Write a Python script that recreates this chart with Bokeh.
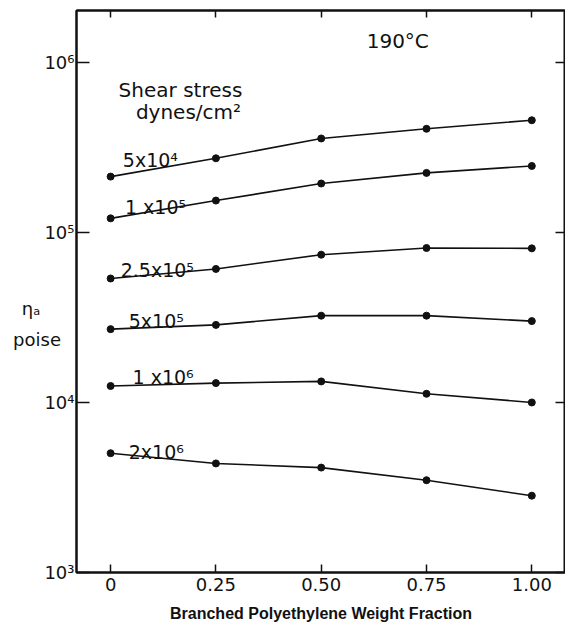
import numpy as np
from bokeh.plotting import figure
from bokeh.models import (FixedTicker, LinearAxis, LogAxis, CustomJSTickFormatter,
                          Label, ColumnDataSource, Range1d)
from bokeh.core.properties import value
from bokeh.embed import file_html
from bokeh.resources import INLINE

# ---------------- data ----------------
fraction = [0.0, 0.25, 0.50, 0.75, 1.00]
stress_labels = ["5x10⁴", "1 x10⁵", "2.5x10⁵", "5x10⁵", "1 x10⁶", "2x10⁶"]
visc_5e4 = [2.13e5, 2.73e5, 3.57e5, 4.07e5, 4.57e5]
visc_1e5 = [1.21e5, 1.54e5, 1.94e5, 2.24e5, 2.46e5]
visc_2_5e5 = [5.36e4, 6.10e4, 7.40e4, 8.10e4, 8.06e4]
visc_5e5 = [2.70e4, 2.86e4, 3.24e4, 3.24e4, 3.01e4]
visc_1e6 = [1.25e4, 1.30e4, 1.33e4, 1.125e4, 1.00e4]
visc_2e6 = [5.03e3, 4.38e3, 4.14e3, 3.49e3, 2.83e3]
series = [visc_5e4, visc_1e5, visc_2_5e5, visc_5e5, visc_1e6, visc_2e6]

x_ticks = [0.0, 0.25, 0.50, 0.75, 1.00]
x_tick_labels = ["0", "0.25", "0.50", "0.75", "1.00"]
y_ticks = [1e3, 1e4, 1e5, 1e6]
y_tick_labels = ["10³", "10⁴", "10⁵", "10⁶"]
y_title_lines = ["ηₐ", "poise"]

# ---------------- layout (anchors) ----------------
label_anchor = [(0.029, 2.66e5), (0.034, 1.41e5), (0.024, 6.04e4),
                (0.043, 3.03e4), (0.052, 1.41e4), (0.043, 5.12e3)]
# y-axis title lines are drawn as tick labels of the left axis at these heights,
# padded on the right with fixed-width unicode spaces
y_title_anchor = [3.56e4, 2.36e4]
y_title_pad = ["\u2003\u2002\u2009\u2009", "\u2002\u2005"]

FONT = "DejaVu Sans"
INK = "#111111"

p = figure(width=565, height=624, y_axis_type="log",
           x_range=Range1d(-0.081, 1.080), y_range=Range1d(1e3, 2.02e6),
           output_backend="svg", toolbar_location=None,
           min_border_left=76, min_border_right=0, min_border_top=10,
           min_border_bottom=50, background_fill_color="white",
           border_fill_color="white")
p.grid.visible = False
p.outline_line_color = INK
p.outline_line_width = 2

# bottom axis
xa = p.xaxis[0]
xa.ticker = FixedTicker(ticks=x_ticks)
xa.major_label_overrides = {t: l for t, l in zip(x_ticks, x_tick_labels)}
xa.major_tick_in = 8
xa.major_tick_out = 0
xa.minor_tick_line_color = None
xa.axis_line_width = 2
xa.axis_line_color = INK
xa.major_tick_line_color = INK
xa.major_tick_line_width = 1.5
xa.major_label_text_font = FONT
xa.major_label_text_font_size = "18px"
xa.major_label_text_color = INK
xa.major_label_standoff = 5
xa.axis_label = "Branched Polyethylene Weight Fraction"
xa.axis_label_text_font = "Liberation Sans"
xa.axis_label_text_font_style = "bold"
xa.axis_label_text_font_size = "16px"
xa.axis_label_text_color = INK
xa.axis_label_standoff = 11

# left axis: decade marks drawn as "minor" ticks, title lines as extra labels
all_vals = list(y_ticks) + list(y_title_anchor)
all_labels = list(y_tick_labels) + [t + pad for t, pad in zip(y_title_lines, y_title_pad)]
ya = p.yaxis[0]
ya.ticker = FixedTicker(ticks=all_vals, minor_ticks=y_ticks)
ya.formatter = CustomJSTickFormatter(
    args=dict(tvals=all_vals, tlabels=all_labels),
    code="""
    for (let i = 0; i < tvals.length; i++) {
        if (Math.abs(Math.log10(tick) - Math.log10(tvals[i])) < 1e-6) return tlabels[i];
    }
    return "";
    """)
ya.major_tick_line_color = None
ya.major_tick_in = 0
ya.major_tick_out = 0
ya.minor_tick_in = 13
ya.minor_tick_out = 0
ya.minor_tick_line_color = INK
ya.minor_tick_line_width = 1.5
ya.axis_line_width = 2
ya.axis_line_color = INK
ya.major_label_text_font = FONT
ya.major_label_text_font_size = "18px"
ya.major_label_text_color = INK
ya.major_label_standoff = 2

top = LinearAxis(ticker=FixedTicker(ticks=x_ticks), formatter=CustomJSTickFormatter(code="return '';"),
                 major_tick_in=7, major_tick_out=0, minor_tick_line_color=None,
                 axis_line_width=2, axis_line_color=INK, major_tick_line_color=INK,
                 major_tick_line_width=1.5, major_label_standoff=0,
                 major_label_text_font_size="0px")
p.add_layout(top, "above")
right = LogAxis(ticker=FixedTicker(ticks=y_ticks), formatter=CustomJSTickFormatter(code="return '';"),
                major_tick_in=10, major_tick_out=0, minor_tick_line_color=None,
                axis_line_width=2, axis_line_color=INK, major_tick_line_color=INK,
                major_tick_line_width=1.5, major_label_standoff=0,
                major_label_text_font_size="0px")
p.add_layout(right, "right")

# data
for vals in series:
    src = ColumnDataSource(dict(x=fraction, y=vals))
    p.line("x", "y", source=src, line_color=INK, line_width=1.6)
    p.scatter("x", "y", source=src, size=7, fill_color=INK, line_color=INK)

lab_src = ColumnDataSource(dict(x=[a[0] for a in label_anchor],
                                y=[a[1] for a in label_anchor],
                                t=stress_labels))
p.text("x", "y", text="t", source=lab_src, text_font=value(FONT),
       text_font_size="19px", text_color=INK, text_baseline="alphabetic",
       text_align="left")

def add_label(x, y, t, align="left", size="20px"):
    p.add_layout(Label(x=x, y=y, text=t, text_font=FONT, text_font_size=size,
                       text_color=INK, text_align=align, text_baseline="alphabetic"))

add_label(0.019, 6.84e5, "Shear stress")
add_label(0.060, 5.09e5, "dynes/cm²")
add_label(0.608, 1.33e6, "190°C")

open("out.html", "w").write(file_html(p, INLINE))
